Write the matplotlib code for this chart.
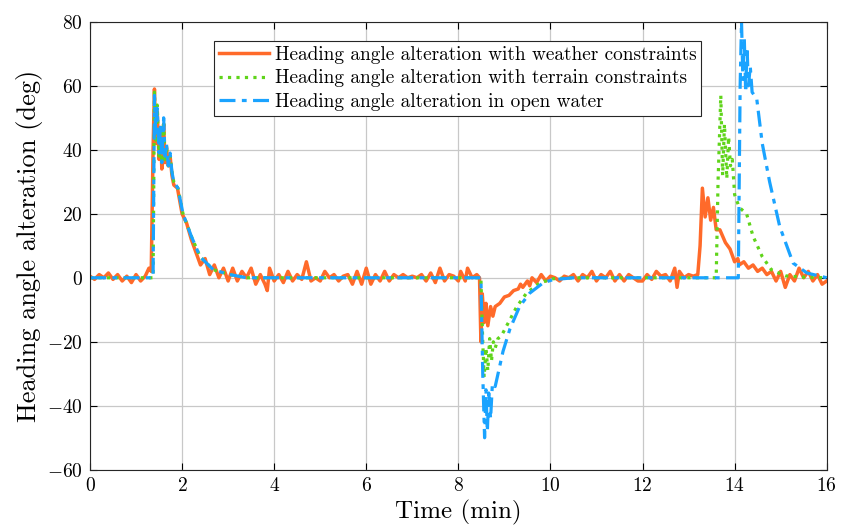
import numpy as np
import matplotlib.pyplot as plt

plt.rcParams['font.family'] = 'serif'
plt.rcParams['font.serif'] = ['cmr10']
plt.rcParams['mathtext.fontset'] = 'cm'
plt.rcParams['axes.formatter.use_mathtext'] = True

# Heading angle alteration with weather constraints (deg)
t_weather = [0.0, 0.1, 0.2, 0.3, 0.4, 0.5, 0.6, 0.7, 0.8, 0.9, 1.0, 1.1, 1.2, 1.28, 1.33,
             1.37, 1.4, 1.43, 1.46, 1.5, 1.53, 1.56, 1.6, 1.63, 1.66, 1.7, 1.74, 1.78, 1.82,
             1.9, 2.0, 2.1, 2.2, 2.3, 2.4, 2.5, 2.6, 2.7, 2.8, 2.9, 3.0, 3.1, 3.2, 3.3, 3.4,
             3.5, 3.6, 3.7, 3.8, 3.85, 3.9, 4.0, 4.1, 4.2, 4.3, 4.4, 4.5, 4.6, 4.7, 4.8, 4.9,
             5.0, 5.1, 5.2, 5.3, 5.4, 5.5, 5.6, 5.7, 5.8, 5.9, 6.0, 6.1, 6.2, 6.3, 6.4, 6.5,
             6.6, 6.7, 6.8, 6.9, 7.0, 7.1, 7.2, 7.3, 7.4, 7.5, 7.6, 7.7, 7.8, 7.9, 8.0, 8.05,
             8.15, 8.2, 8.3, 8.4, 8.46, 8.49, 8.52, 8.56, 8.6, 8.64, 8.7, 8.75, 8.8, 8.9, 9.0,
             9.1, 9.2, 9.3, 9.35, 9.4, 9.5, 9.55, 9.6, 9.7, 9.8, 9.9, 10.0, 10.1, 10.2, 10.3,
             10.4, 10.5, 10.6, 10.7, 10.8, 10.9, 11.0, 11.1, 11.2, 11.3, 11.4, 11.5, 11.6,
             11.7, 11.8, 11.9, 12.0, 12.1, 12.2, 12.3, 12.4, 12.5, 12.6, 12.7, 12.75, 12.8,
             12.9, 13.0, 13.1, 13.2, 13.25, 13.3, 13.36, 13.42, 13.48, 13.54, 13.6, 13.68,
             13.8, 13.9, 14.0, 14.07, 14.1, 14.2, 14.3, 14.4, 14.5, 14.6, 14.7, 14.8, 14.9,
             15.0, 15.1, 15.2, 15.3, 15.4, 15.5, 15.6, 15.7, 15.8, 15.9, 16.0]
weather = [0.5, -0.5, 1, 0, 1.5, -0.5, 1, -1, 0.5, -1.5, 1, -1, 0.5, 3, 2,
           40, 59, 42, 52, 37, 47, 34, 48, 36, 41, 35, 38, 32, 29,
           28, 20, 17, 12, 8, 4, 6, 1, 4, 0, 3, -1, 3, -1, 2, 0,
           3, -2, 1, -2, -4, 3, -1, 1, -1.5, 2, -1, 1, -0.5, 5, -1, 0,
           -1, 2, 0, 1, -1, 0.5, 1, -2, 2, -2, 3, -2, 1, -1, 2, -1,
           1, 0, 1, 0, 0.5, 0, 1, -1, 1.5, -1.5, 3, -1, 1, 0.5, -1, 2,
           -1, 3, 0, 1, 0, -20, -5, -14, -8, -15, -9, -12, -9, -8, -6,
           -5.5, -4, -3.5, -2, -3, -1, -2.5, 0, -1.5, 1, -1, 0.5, 0, -1, 0.5,
           0, 1, -1, 1, 0, 2, -1, 1, 0, 2, -1, 1, -1,
           1, 0, -1, -1, 1, -0.5, 2, 0.5, 1, -1, 3, -3, 2,
           0, 1, 0.5, 1, 10, 28, 19, 25, 18, 22, 15, 15,
           11, 9, 5, 6, 4, 5, 3, 4, 2, 3, 1, 2, -1,
           2, -3, 1, -1, 3, 0, 2, -1, 1, -2, -1]

# Heading angle alteration with terrain constraints (deg)
t_terrain = [0.0, 1.37, 1.4, 1.43, 1.46, 1.5, 1.53, 1.56, 1.6, 1.63, 1.66, 1.7, 1.74, 1.78,
             1.82, 1.91, 2.02, 2.2, 2.39, 2.68, 3.04, 3.4, 8.49, 8.53, 8.56, 8.6, 8.64, 8.68,
             8.72, 8.76, 8.8, 8.86, 8.94, 9.05, 9.27, 9.48, 9.77, 10.05, 10.5, 13.6, 13.64,
             13.7, 13.74, 13.78, 13.83, 13.87, 13.91, 13.95, 14.0, 14.1, 14.26, 14.4, 14.6,
             14.8, 15.1, 15.5, 16.0]
terrain = [0, 0, 58, 43, 54, 38, 47, 36, 49, 37, 41, 35, 38, 33,
           30, 28, 20, 13, 6.6, 2.5, 1, 0, 0, -20, -31, -22, -29, -19,
           -26, -20, -22, -19, -18, -15, -9, -4.8, -1.6, -0.3, 0, 0, 30,
           57, 32, 48, 31, 44, 35, 37, 26, 22, 20, 13, 6.6,
           2.5, 0.6, 0.2, 0]

# Heading angle alteration in open water (deg)
t_open = [0.0, 1.37, 1.4, 1.43, 1.46, 1.5, 1.53, 1.56, 1.6, 1.63, 1.66, 1.7, 1.74, 1.78,
          1.82, 1.91, 2.02, 2.2, 2.39, 2.68, 3.04, 3.4, 8.49, 8.53, 8.57, 8.6, 8.63, 8.66,
          8.7, 8.74, 8.8, 8.97, 9.12, 9.33, 9.55, 9.84, 10.05, 10.5, 14.08, 14.12, 14.15,
          14.18, 14.21, 14.24, 14.27, 14.3, 14.34, 14.38, 14.48, 14.6, 14.76, 14.98, 15.27,
          15.57, 16.0]
open_water = [0, 0, 57, 44, 53, 39, 48, 36, 50, 38, 42, 35, 39, 33,
              30, 28, 20, 13, 6.6, 2.5, 1, 0, 0, -30, -50, -35, -48, -36,
              -44, -33, -34, -23, -16, -9, -4.8, -1.6, -0.6, 0, 0, 60, 80,
              62, 75, 58, 72, 60, 66, 58, 56, 42, 30, 16, 4.6,
              1.5, 0]

fig, ax = plt.subplots(figsize=(8.41, 5.32), dpi=100)
fig.subplots_adjust(left=0.107, right=0.983, top=0.959, bottom=0.117)

ax.plot(t_weather, weather, color='#FF6A2A', lw=2.5, linestyle='-',
        label='Heading angle alteration with weather constraints')
ax.plot(t_terrain, terrain, color='#5FD41A', lw=2.3, linestyle=':',
        label='Heading angle alteration with terrain constraints')
ax.plot(t_open, open_water, color='#1AA3FF', lw=2.3, dashes=(5, 2, 1.5, 2),
        label='Heading angle alteration in open water')

ax.set_xlim(0, 16)
ax.set_ylim(-60, 80)
ax.set_xticks(np.arange(0, 17, 2))
ax.set_yticks(np.arange(-60, 81, 20))
ax.grid(True, color='#C8C8C8', lw=0.9)
ax.set_axisbelow(True)
ax.tick_params(direction='in', top=True, right=True, labelsize=14, length=5, pad=5)
for s in ax.spines.values():
    s.set_color('#262626')
    s.set_linewidth(0.8)

ax.set_xlabel('Time (min)', fontsize=18, labelpad=4)
ax.set_ylabel('Heading angle alteration (deg)', fontsize=19, labelpad=3)

leg = ax.legend(loc='upper left', bbox_to_anchor=(0.168, 0.957), fontsize=13.9,
                fancybox=False, framealpha=1, edgecolor='#262626', borderpad=0.25,
                labelspacing=0.28, handlelength=2.6, handletextpad=0.3, borderaxespad=0)
leg.get_frame().set_linewidth(0.8)

fig.savefig('out.png', dpi=100)
